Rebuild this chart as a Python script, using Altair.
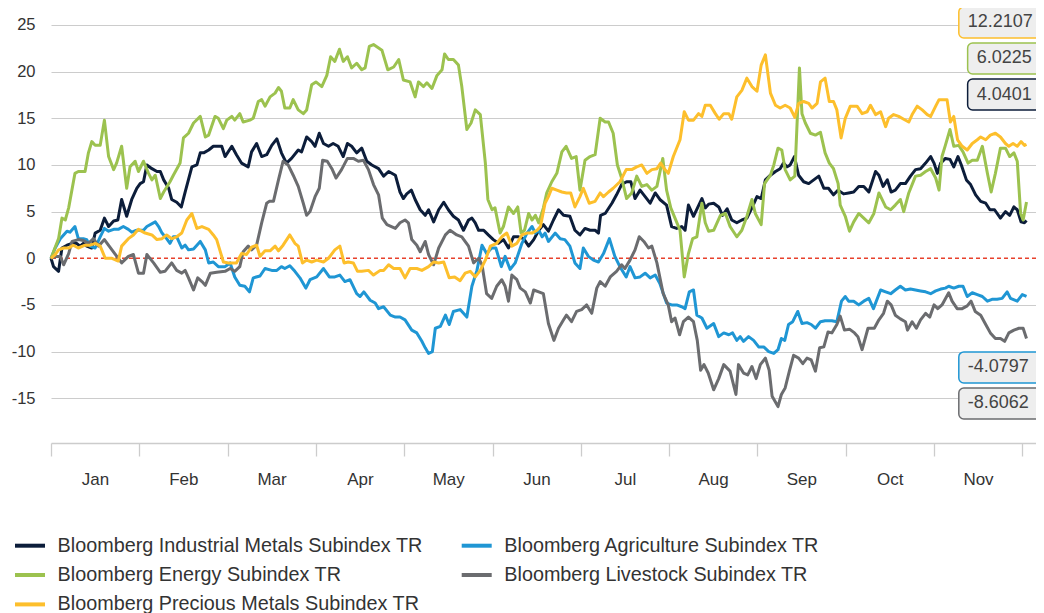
import altair as alt
import pandas as pd

FONT = "Liberation Sans"

months = ["Jan", "Feb", "Mar", "Apr", "May", "Jun", "Jul", "Aug", "Sep", "Oct", "Nov"]
DAYS_PER_MONTH = 21  # trading days per month band on the time axis

# legend is filled column by column: first column 3 entries, second column 2
series_names = [
    "Bloomberg Industrial Metals Subindex TR",
    "Bloomberg Energy Subindex TR",
    "Bloomberg Precious Metals Subindex TR",
    "Bloomberg Agriculture Subindex TR",
    "Bloomberg Livestock Subindex TR",
]
series_colors = ["#0c1d3a", "#9cc24f", "#fdbf2c", "#1f96d4", "#6b6c6f"]

# (trading day, % return YTD)
industrial = [(0,0),(0.6,-0.9),(1.8,-1.4),(2.6,1.1),(3.8,1.4),(5.0,1.6),(6.1,1.6),(6.9,1.3),(7.7,1.6),(8.5,1.3),(9.7,1.1),(10.5,2.7),(11.7,3.0),(12.7,4.3),(13.7,3.4),(14.9,4.0),(15.9,4.1),(16.8,6.3),(18.0,4.5),(19.2,6.3),(20.4,7.5),(21.2,8.0),(22.0,8.2),(22.8,10.0),(24.0,9.6),(25.2,9.3),(26.0,9.3),(26.8,8.4),(28.0,7.5),(28.7,6.3),(29.9,6.0),(31.0,5.5),(31.9,7.1),(33.5,9.8),(34.7,10.0),(35.5,11.3),(36.3,11.3),(37.5,11.6),(38.6,12.0),(40.6,12.0),(41.4,10.9),(43.0,12.0),(44.1,11.1),(45.3,10.2),(46.9,9.8),(47.7,11.4),(48.9,12.3),(50.1,10.9),(51.3,11.1),(52.5,12.1),(53.7,12.8),(54.8,11.3),(56.0,10.2),(57.2,10.7),(58.8,11.6),(59.6,11.4),(60.8,13.0),(62.0,12.5),(62.8,12.0),(63.8,13.4),(64.8,12.3),(66.0,12.0),(67.1,12.3),(68.3,12.0),(69.5,10.9),(70.5,12.3),(71.5,12.0),(72.7,11.3),(73.9,11.8),(75.1,10.4),(76.3,10.0),(77.9,9.6),(79.1,8.8),(80.3,9.3),(81.9,8.9),(83.0,7.1),(83.8,6.4),(84.6,6.9),(85.7,7.3),(86.6,6.3),(87.8,5.2),(89.0,4.6),(89.8,5.2),(91.0,3.9),(92.2,5.2),(93.4,6.0),(94.5,5.2),(95.7,4.5),(96.9,4.1),(98.1,3.0),(99.3,4.1),(100.1,4.3),(100.9,3.8),(101.7,3.0),(102.9,3.0),(104.0,2.5),(105.2,2.0),(106.4,1.6),(107.6,2.0),(108.8,1.1),(110.0,2.3),(111.2,2.3),(112.4,2.1),(113.6,1.3),(114.8,2.0),(116.0,3.0),(117.1,3.6),(118.3,2.9),(119.5,4.1),(120.7,5.2),(121.9,4.6),(123.4,4.5),(124.6,3.0),(125.8,2.5),(127.0,3.2),(128.2,3.0),(129.4,3.0),(130.2,2.7),(130.7,4.6),(131.8,4.8),(133.4,5.9),(134.5,6.8),(135.7,7.9),(136.9,8.2),(137.9,8.2),(138.9,6.4),(140.1,7.3),(141.3,6.6),(142.5,5.9),(143.7,7.0),(144.8,6.3),(146.4,5.7),(147.6,3.4),(148.8,3.2),(150.0,3.4),(150.8,3.0),(151.6,5.7),(152.8,4.5),(154.8,6.4),(155.6,5.4),(156.4,5.8),(157.6,5.9),(158.8,5.5),(159.7,4.6),(160.8,5.3),(161.9,4.1),(163.1,3.8),(164.3,4.1),(165.5,4.3),(166.7,5.4),(167.9,6.6),(168.9,6.4),(169.9,8.4),(171.1,8.9),(172.3,9.3),(173.4,9.6),(174.2,10.2),(175.0,9.8),(175.8,10.0),(176.8,10.9),(177.8,8.9),(179.0,8.2),(180.2,8.0),(181.4,8.4),(182.6,8.8),(183.8,7.5),(184.9,7.5),(186.1,6.8),(187.2,7.3),(188.5,6.9),(189.7,7.0),(190.9,7.1),(192.1,7.7),(193.3,7.7),(194.5,7.1),(196.1,9.3),(196.9,8.9),(197.9,7.7),(198.9,8.4),(199.8,7.1),(200.8,7.3),(202.0,8.0),(203.2,8.0),(204.4,8.8),(205.6,9.5),(206.8,9.6),(208.0,10.2),(209.2,10.9),(210.0,10.2),(210.8,9.1),(211.6,10.2),(212.7,10.7),(213.8,10.6),(214.7,9.8),(215.7,10.9),(216.5,10.0),(217.7,8.4),(218.7,7.9),(219.9,6.8),(221.1,6.1),(222.3,5.9),(223.3,5.2),(224.4,5.2),(225.8,4.3),(227.0,5.0),(228.0,4.6),(229.0,5.5),(229.8,5.2),(230.7,3.9),(231.5,3.8),(232.0,4.0401)]

agriculture = [(0,0),(1.0,1.1),(2.2,2.1),(3.8,2.9),(4.5,2.8),(5.7,3.4),(6.5,2.1),(7.7,2.1),(8.5,2.0),(9.3,1.3),(10.5,1.1),(11.7,2.3),(12.7,3.2),(13.7,2.9),(14.9,3.1),(16.0,3.1),(17.2,3.4),(18.4,3.1),(19.2,2.8),(20.4,3.0),(22.0,3.0),(22.8,3.4),(24.8,3.9),(25.6,3.4),(26.4,2.7),(27.5,2.1),(28.3,1.6),(29.1,2.3),(29.9,2.3),(31.1,1.1),(31.9,1.4),(32.7,0.9),(33.9,1.0),(35.5,1.8),(36.7,0.9),(37.5,-0.5),(38.6,-0.4),(39.8,-0.9),(41.4,-0.9),(42.6,-0.5),(43.7,-2.0),(44.9,-2.9),(46.1,-3.0),(47.2,-3.6),(48.1,-2.1),(49.7,-1.9),(50.9,-1.1),(52.5,-1.3),(53.7,-1.3),(54.8,-0.9),(55.6,-1.1),(56.8,-0.8),(58.0,-1.4),(59.2,-2.1),(60.6,-3.2),(61.6,-2.3),(63.2,-2.0),(64.8,-1.1),(66.2,-2.0),(67.5,-2.0),(68.7,-1.8),(69.9,-2.5),(71.1,-2.3),(72.7,-3.8),(73.5,-4.1),(74.4,-3.6),(75.9,-4.5),(77.1,-4.8),(77.9,-5.4),(79.1,-5.2),(80.7,-6.1),(81.9,-6.3),(83.0,-6.3),(84.2,-6.6),(85.8,-7.7),(87.0,-8.0),(88.2,-8.9),(89.0,-9.6),(89.8,-10.2),(90.7,-10.0),(91.4,-7.5),(92.6,-7.3),(93.8,-6.1),(94.7,-7.1),(95.7,-5.7),(97.3,-5.5),(98.1,-5.9),(98.9,-6.3),(100.1,-3.0),(101.3,-1.3),(102.5,1.4),(103.6,0.5),(104.8,1.1),(105.8,1.1),(107.1,-0.9),(108.0,0.2),(109.2,-1.2),(110.4,-0.5),(112.0,1.6),(113.2,2.7),(114.4,3.4),(115.2,2.7),(116.0,3.0),(116.8,2.3),(117.5,2.7),(118.3,1.8),(119.9,2.7),(121.1,2.1),(122.2,2.0),(123.4,1.3),(124.6,-0.5),(125.8,-1.1),(126.6,1.1),(127.8,0.2),(129.0,-0.2),(130.2,-0.4),(131.4,0.5),(132.8,2.1),(134.1,0.2),(135.3,-0.9),(136.8,-2.0),(137.7,-0.9),(138.9,-2.1),(140.1,-2.0),(141.3,-1.6),(142.5,-2.1),(143.7,-1.8),(144.8,-2.7),(146.4,-4.8),(147.6,-5.0),(148.8,-5.0),(150.0,-5.2),(150.8,-5.4),(151.8,-3.6),(152.8,-3.4),(153.6,-6.1),(154.8,-6.4),(156.0,-7.5),(157.6,-7.0),(158.8,-8.4),(160.0,-8.0),(161.2,-8.2),(162.1,-8.0),(163.1,-8.8),(163.9,-8.4),(164.7,-8.9),(165.9,-8.4),(167.1,-8.8),(168.3,-9.5),(169.5,-9.5),(170.7,-10.0),(171.9,-10.2),(172.9,-9.8),(173.7,-8.6),(174.5,-8.8),(175.4,-7.1),(176.4,-6.8),(177.6,-5.7),(178.6,-7.0),(179.8,-6.9),(180.8,-7.1),(181.8,-7.5),(183.0,-6.8),(184.1,-6.7),(185.7,-6.7),(186.9,-6.8),(188.0,-4.6),(188.9,-4.1),(189.7,-4.6),(190.9,-4.6),(192.1,-5.0),(193.3,-4.6),(194.5,-4.3),(195.6,-5.4),(197.3,-3.4),(198.5,-3.6),(199.7,-3.8),(200.8,-3.4),(202.0,-3.0),(203.2,-3.4),(204.4,-3.3),(205.6,-3.4),(206.8,-3.5),(208.0,-3.6),(209.2,-3.8),(210.4,-3.5),(211.6,-3.3),(212.7,-3.2),(213.5,-3.0),(214.7,-3.2),(215.9,-3.0),(216.9,-3.0),(217.9,-4.1),(219.1,-3.7),(220.3,-3.9),(221.5,-4.1),(222.7,-4.6),(223.8,-4.4),(225.0,-4.4),(226.2,-4.3),(227.4,-3.6),(228.2,-4.3),(229.8,-4.6),(231.0,-3.9),(232.0,-4.0797)]

energy = [(0,0),(1.8,2.1),(2.6,4.3),(3.4,4.1),(4.2,5.4),(5.7,9.1),(6.5,9.3),(8.1,9.3),(8.9,11.3),(9.7,12.5),(10.5,12.1),(11.7,12.1),(12.7,14.8),(13.7,10.9),(14.9,9.5),(15.6,10.2),(16.8,12.0),(18.0,7.5),(18.8,9.8),(20.0,10.4),(20.8,9.3),(22.0,10.4),(23.2,9.1),(24.0,8.4),(24.8,8.9),(26.0,6.4),(26.8,7.1),(28.3,8.2),(29.1,8.9),(30.7,10.2),(31.5,12.9),(32.7,13.4),(33.9,14.5),(35.5,15.2),(36.7,13.0),(37.5,13.2),(39.0,15.2),(39.8,15.0),(41.0,13.9),(41.8,14.8),(43.0,15.2),(43.7,14.8),(44.9,15.5),(45.7,14.6),(47.3,14.8),(48.1,15.0),(49.3,16.8),(50.1,17.0),(50.9,16.3),(52.1,17.3),(53.3,17.7),(54.1,18.3),(54.8,17.9),(55.6,16.1),(56.8,16.1),(57.6,17.0),(58.8,15.9),(60.0,15.5),(60.8,15.9),(62.0,18.6),(63.0,18.9),(64.4,18.4),(65.6,19.6),(66.5,21.6),(67.5,21.1),(68.6,22.4),(69.5,21.1),(70.5,21.6),(71.5,20.4),(72.7,20.9),(73.9,20.2),(74.7,20.4),(75.7,22.7),(76.7,22.9),(78.7,22.3),(80.1,20.2),(81.5,20.5),(82.7,21.3),(83.8,19.1),(85.4,18.9),(86.6,17.3),(87.4,18.9),(88.6,18.4),(89.4,18.8),(90.6,18.2),(91.8,19.6),(93.0,20.2),(93.6,21.9),(94.5,21.3),(95.7,21.3),(96.9,20.7),(97.7,18.4),(98.9,13.8),(99.9,14.5),(100.9,15.9),(102.1,15.4),(103.3,10.2),(103.9,6.3),(104.9,5.2),(105.6,5.4),(106.8,2.7),(107.6,3.4),(108.8,5.5),(110.0,4.8),(111.0,5.5),(111.8,2.7),(112.6,3.0),(113.6,4.8),(114.4,4.1),(115.2,4.6),(116.0,3.8),(117.1,5.4),(117.9,7.0),(119.1,8.2),(120.3,9.1),(121.5,11.4),(122.5,12.0),(123.8,10.7),(124.9,10.9),(125.8,7.3),(127.0,10.5),(128.2,10.9),(129.4,11.1),(130.6,15.0),(131.8,14.6),(132.6,14.6),(133.7,13.4),(134.7,10.0),(135.7,8.6),(136.9,6.4),(138.1,7.0),(139.3,8.8),(140.5,7.7),(141.7,7.9),(142.9,7.3),(144.1,7.7),(145.5,10.7),(146.4,7.3),(147.4,5.4),(148.4,4.3),(149.6,3.0),(150.6,-2.0),(151.6,0.5),(152.6,2.1),(153.6,2.3),(154.8,5.9),(155.6,3.8),(156.4,2.9),(157.6,3.0),(159.2,4.6),(160.4,4.8),(161.5,3.4),(163.1,2.3),(164.3,3.0),(165.5,4.5),(166.7,6.3),(167.5,4.8),(168.9,3.6),(169.7,8.0),(171.1,8.9),(171.9,10.0),(172.9,11.8),(173.8,11.6),(174.6,9.5),(175.8,8.4),(176.9,8.8),(178.0,20.4),(178.6,15.5),(179.4,14.5),(180.6,13.4),(181.8,13.2),(183.0,13.5),(184.1,11.3),(185.1,10.2),(186.1,9.6),(187.2,8.0),(187.7,5.7),(188.9,4.5),(189.9,2.9),(190.9,3.9),(192.1,4.8),(193.3,4.3),(194.5,3.8),(195.7,4.8),(196.9,7.0),(198.5,5.5),(199.7,5.2),(200.8,5.7),(202.0,6.3),(202.8,5.0),(204.0,7.0),(205.6,8.8),(206.8,8.9),(208.0,9.3),(209.2,9.6),(210.4,8.6),(211.2,7.3),(211.9,10.9),(212.7,12.1),(213.8,13.8),(214.7,12.0),(215.9,12.1),(216.9,11.4),(218.1,10.2),(219.1,10.5),(220.3,10.5),(221.5,12.0),(222.7,9.1),(223.6,7.1),(224.6,9.1),(225.8,11.8),(227.0,11.8),(228.0,10.9),(229.0,11.3),(229.8,10.4),(230.6,4.8),(231.2,4.1),(232.0,6.0225)]

livestock = [(0,0),(1.0,0.2),(2.2,0.2),(3.0,-0.7),(4.2,0.5),(5.0,1.8),(6.5,2.0),(7.7,1.9),(8.9,1.6),(10.1,2.1),(11.3,1.3),(12.7,2.0),(14.5,0.9),(16.8,-0.5),(18.4,0.2),(19.6,0.4),(20.8,-1.6),(22.0,-1.6),(22.8,0.4),(24.4,-0.5),(26.0,-1.5),(27.1,-1.4),(28.7,-0.5),(29.9,-1.3),(31.1,-1.6),(31.9,-1.3),(32.7,-2.1),(33.9,-3.4),(34.9,-2.1),(35.9,-2.5),(36.7,-2.9),(37.9,-1.6),(39.4,-1.5),(41.4,-1.4),(42.6,-1.1),(43.7,-1.4),(44.9,-0.9),(45.7,0.7),(46.9,1.3),(47.7,0.9),(48.9,1.4),(50.1,3.8),(51.3,5.9),(51.9,6.1),(52.9,6.1),(54.1,8.4),(55.2,10.4),(56.4,10.0),(57.6,8.9),(58.8,7.7),(60.0,5.9),(60.8,4.6),(61.6,5.0),(62.8,6.6),(63.8,7.5),(64.6,10.5),(65.7,10.4),(66.8,9.6),(67.8,8.6),(69.1,9.5),(70.5,10.7),(71.9,10.7),(73.1,10.4),(74.3,10.5),(75.5,9.5),(76.7,7.9),(77.9,6.8),(78.8,4.3),(79.9,3.6),(81.9,3.2),(83.0,3.8),(84.2,4.1),(85.0,3.8),(85.8,2.0),(87.0,1.4),(87.8,0.7),(89.0,1.8),(89.8,0.4),(91.0,-0.7),(92.2,1.1),(93.8,2.5),(94.9,3.0),(96.5,2.5),(97.7,2.3),(99.3,1.3),(100.5,-0.5),(101.7,0.0),(102.5,-0.7),(103.6,-3.8),(104.8,-4.3),(106.0,-3.0),(107.2,-2.3),(108.0,-3.0),(108.8,-4.6),(109.6,-1.8),(110.8,-2.3),(111.6,-3.2),(112.8,-3.6),(114.0,-4.8),(114.8,-3.4),(116.0,-3.6),(117.1,-3.8),(118.3,-7.0),(119.6,-8.8),(120.7,-7.5),(121.9,-6.6),(122.6,-6.1),(123.8,-6.8),(125.0,-5.7),(126.2,-5.5),(127.4,-5.0),(128.6,-5.9),(129.8,-3.2),(130.6,-2.5),(131.8,-3.0),(133.0,-2.0),(134.5,-1.4),(135.7,-0.7),(136.5,-1.1),(137.7,-0.2),(138.9,0.9),(139.9,2.3),(141.0,1.8),(142.1,1.1),(142.9,1.3),(144.1,-0.5),(145.6,-3.8),(146.8,-5.0),(147.6,-6.8),(148.4,-6.4),(149.5,-8.2),(150.4,-6.8),(151.6,-6.3),(152.8,-6.8),(153.7,-8.8),(154.5,-12.0),(155.3,-11.4),(156.3,-12.3),(157.6,-14.1),(158.8,-12.9),(160.0,-11.4),(161.5,-12.1),(162.9,-14.6),(163.5,-11.4),(164.7,-12.3),(165.7,-12.5),(166.7,-11.6),(167.7,-12.9),(168.7,-11.4),(169.9,-10.7),(170.8,-12.0),(171.5,-14.8),(172.9,-15.9),(173.7,-14.6),(174.6,-13.9),(175.6,-12.1),(176.6,-10.4),(177.8,-10.7),(178.8,-11.3),(179.8,-10.7),(180.8,-10.9),(181.8,-12.1),(182.8,-9.6),(183.8,-9.5),(184.8,-7.9),(185.7,-8.0),(186.9,-7.1),(187.7,-6.2),(188.7,-7.7),(189.9,-7.6),(191.1,-8.0),(191.9,-8.4),(192.9,-9.8),(194.3,-7.5),(195.8,-7.5),(196.9,-6.6),(198.0,-5.9),(198.9,-4.6),(199.8,-5.0),(200.8,-6.1),(202.0,-6.5),(203.2,-6.8),(203.7,-7.7),(204.8,-6.8),(205.8,-7.5),(206.8,-6.6),(208.0,-5.9),(209.0,-6.3),(210.0,-5.0),(210.9,-5.4),(211.9,-5.0),(213.5,-3.7),(214.3,-4.6),(215.5,-5.4),(216.7,-5.4),(217.9,-5.1),(218.8,-4.6),(219.8,-5.7),(221.1,-6.1),(222.3,-7.1),(223.4,-8.0),(224.6,-8.6),(225.8,-8.6),(226.8,-8.9),(227.8,-8.0),(229.0,-7.7),(230.2,-7.5),(231.2,-7.5),(232.0,-8.6062)]

precious = [(0,0),(1.0,0.4),(1.8,0.9),(3.0,1.1),(4.2,1.1),(5.3,1.4),(6.5,1.1),(8.1,1.4),(9.3,1.4),(10.5,1.6),(11.7,1.3),(12.9,0.0),(14.5,0.0),(16.0,-0.3),(16.8,1.3),(18.4,2.1),(19.6,2.5),(20.8,3.1),(22.4,2.7),(24.0,2.5),(25.2,2.0),(26.4,2.1),(27.5,2.5),(28.7,2.1),(29.9,2.3),(31.1,2.7),(32.3,4.1),(33.5,4.8),(34.7,3.2),(35.9,3.4),(37.5,3.1),(38.6,2.5),(39.4,2.0),(41.0,-0.4),(42.2,-0.5),(44.1,-0.5),(45.3,0.5),(46.5,0.4),(47.7,1.2),(48.9,1.4),(49.7,0.2),(50.9,0.8),(52.1,0.8),(53.3,1.3),(54.1,0.8),(55.2,1.4),(56.8,2.5),(58.0,1.6),(58.8,1.3),(59.8,-0.5),(60.8,-0.2),(62.0,-0.4),(63.2,-0.2),(64.8,-0.4),(66.0,0.0),(67.5,0.9),(68.7,1.3),(69.7,-0.5),(70.7,-0.4),(71.9,-0.5),(72.9,-1.4),(73.9,-1.4),(75.5,-1.3),(76.7,-1.8),(78.3,-1.3),(79.1,-1.3),(80.3,-0.7),(81.5,-1.1),(83.0,-1.1),(84.2,-2.1),(85.4,-1.1),(87.0,-1.1),(88.2,-1.3),(89.8,-0.9),(91.0,-0.4),(92.2,-0.5),(93.4,-0.4),(94.7,-2.1),(96.0,-2.0),(97.3,-2.4),(98.5,-1.6),(99.7,-1.4),(100.9,-2.0),(102.1,-1.3),(103.3,-0.2),(104.5,1.3),(106.0,1.6),(107.2,2.3),(108.4,2.7),(109.6,1.3),(110.8,1.6),(112.0,2.5),(113.2,2.7),(114.4,2.7),(115.6,3.0),(116.4,3.4),(117.5,5.9),(118.3,6.6),(119.1,7.5),(120.3,7.3),(121.5,7.1),(122.6,7.0),(123.6,7.0),(124.6,5.5),(125.8,6.6),(126.6,7.5),(128.0,5.9),(129.4,6.1),(130.6,7.0),(131.4,6.6),(132.6,7.1),(133.7,7.5),(135.3,8.2),(136.8,9.5),(138.1,9.5),(139.3,9.8),(140.5,10.0),(141.7,9.1),(142.9,9.5),(144.1,9.6),(145.0,10.2),(146.0,9.5),(146.8,9.1),(148.0,10.9),(149.6,12.7),(150.6,15.7),(151.6,14.8),(152.8,14.8),(154.0,15.5),(154.8,15.2),(155.6,16.4),(156.8,16.4),(158.0,15.5),(158.9,14.9),(160.0,15.5),(161.2,15.5),(161.9,14.9),(163.1,17.3),(164.3,18.0),(165.5,19.3),(166.7,18.4),(167.9,17.9),(168.9,20.7),(169.9,21.8),(171.1,17.7),(172.3,16.4),(173.4,16.1),(174.6,16.4),(175.8,16.1),(176.9,15.1),(177.8,16.6),(179.0,16.8),(180.2,16.6),(181.0,16.1),(182.2,16.6),(183.0,18.9),(184.1,19.3),(185.1,16.8),(186.1,16.8),(186.9,15.9),(187.9,12.9),(188.9,15.0),(190.1,16.3),(191.7,16.3),(192.9,15.5),(194.1,15.7),(194.9,16.4),(196.1,15.4),(197.3,15.7),(198.5,14.1),(199.2,15.0),(200.4,15.4),(201.6,15.2),(202.8,14.9),(204.0,14.6),(204.8,15.4),(206.0,16.3),(207.2,15.9),(208.4,15.4),(209.2,15.2),(210.4,16.3),(211.2,17.0),(212.2,17.0),(213.1,17.0),(213.9,14.6),(214.7,15.2),(215.6,12.7),(216.7,12.0),(217.9,11.6),(219.1,12.3),(220.3,12.7),(221.1,13.0),(222.3,12.7),(223.4,13.2),(224.6,13.4),(225.8,13.0),(227.0,12.3),(227.8,12.0),(228.8,12.3),(229.8,12.0),(230.7,12.5),(231.5,12.1),(232.0,12.2107)]

# end-of-period value tags (stacked at the right edge)
tag_labels = ["12.2107", "6.0225", "4.0401", "-4.0797", "-8.6062"]
tag_colors = ["#fdbf2c", "#9cc24f", "#0c1d3a", "#1f96d4", "#6b6c6f"]
tag_center = [25.27, 21.41, 17.55, -11.70, -15.56]
tag_start = [215.9, 218.0, 218.0, 215.9, 215.9]

y_ticks = [-15, -10, -5, 0, 5, 10, 15, 20, 25]

# ---------------------------------------------------------------
series_data = {
    "Bloomberg Industrial Metals Subindex TR": industrial,
    "Bloomberg Agriculture Subindex TR": agriculture,
    "Bloomberg Energy Subindex TR": energy,
    "Bloomberg Livestock Subindex TR": livestock,
    "Bloomberg Precious Metals Subindex TR": precious,
}
rows = []
for name, pts in series_data.items():
    for d, v in pts:
        rows.append({"day": d, "value": v, "series": name})
df = pd.DataFrame(rows)

TAG_HALF = 1.66
tags = pd.DataFrame({
    "label": tag_labels,
    "color": tag_colors,
    "yc": tag_center,
    "ylo": [c - TAG_HALF for c in tag_center],
    "yhi": [c + TAG_HALF for c in tag_center],
    "x0": tag_start,
    "x1": [245.0] * len(tag_labels),
})

n_months = len(months)
PLOT_W = 985
x_max = PLOT_W / (971.3 / (DAYS_PER_MONTH * n_months))
x_scale = alt.Scale(domain=[0, x_max], nice=False, zero=False)
y_scale = alt.Scale(domain=[-19.8, 26.5], nice=False, zero=False)

month_arr = "[" + ",".join("'%s'" % m for m in months) + "]"
x_axis = alt.Axis(
    values=[DAYS_PER_MONTH * i for i in range(n_months + 1)],
    labelExpr="datum.value < %d ? %s[round(datum.value / %d)] : ''" % (DAYS_PER_MONTH * n_months, month_arr, DAYS_PER_MONTH),
    labelOffset=44,
    title=None, grid=False,
    domainColor="#cccccc", domainWidth=1.3,
    tickColor="#cccccc", tickSize=13, tickWidth=1.3,
    labelPadding=15, labelFontSize=17, labelColor="#333333", labelFont=FONT,
    labelOverlap=False, labelBound=False, labelFlush=False, labelAlign="center",
)
y_axis = alt.Axis(
    values=y_ticks, title=None, domain=False, ticks=False, tickSize=0,
    labelExpr="datum.value + ''",
    labelPadding=16, labelFontSize=16.5, labelColor="#333333", labelFont=FONT,
    gridColor="#cccccc", gridWidth=1.2,
    gridOpacity={"condition": {"test": "datum.value === 0", "value": 0}, "value": 1},
)

zero = alt.Chart(pd.DataFrame({"value": [0]})).mark_rule(
    color="#e8412c", strokeDash=[4, 3], strokeWidth=1.3
).encode(y=alt.Y("value:Q", scale=y_scale, axis=y_axis))

lines = alt.Chart(df).mark_line(strokeWidth=3, strokeJoin="round").encode(
    x=alt.X("day:Q", scale=x_scale, axis=x_axis),
    y=alt.Y("value:Q", scale=y_scale, axis=y_axis),
    color=alt.Color(
        "series:N",
        scale=alt.Scale(domain=series_names, range=series_colors),
        legend=alt.Legend(
            title=None, orient="none", legendX=-38, legendY=517.6,
            columns=2, columnPadding=30.7, rowPadding=2.4,
            symbolType="stroke", symbolSize=900, symbolStrokeWidth=4,
            labelFontSize=19.8, labelFont=FONT, labelColor="#333333",
            labelLimit=700, labelOffset=10.6, padding=0,
        ),
    ),
)

boxes = alt.Chart(tags).mark_rect(fill="#eeeeee", strokeWidth=1.5, cornerRadius=5).encode(
    x=alt.X("x0:Q", scale=x_scale, axis=x_axis),
    x2="x1:Q",
    y=alt.Y("ylo:Q", scale=y_scale, axis=y_axis),
    y2="yhi:Q",
    stroke=alt.Stroke("color:N", scale=None),
)
texts = alt.Chart(tags).mark_text(
    align="left", baseline="middle", dx=9, fontSize=18, font=FONT, color="#444444"
).encode(
    x=alt.X("x0:Q", scale=x_scale, axis=x_axis),
    y=alt.Y("yc:Q", scale=y_scale, axis=y_axis),
    text="label:N",
)

chart = alt.layer(zero, lines, boxes, texts).properties(
    width=PLOT_W, height=432,
    padding={"left": 43, "top": 3, "right": 0, "bottom": 170},
    autosize=alt.AutoSizeParams(type="none"),
).configure(font=FONT).configure_view(strokeWidth=0)

chart.save("out.html", embed_options={"renderer": "svg", "actions": False})
